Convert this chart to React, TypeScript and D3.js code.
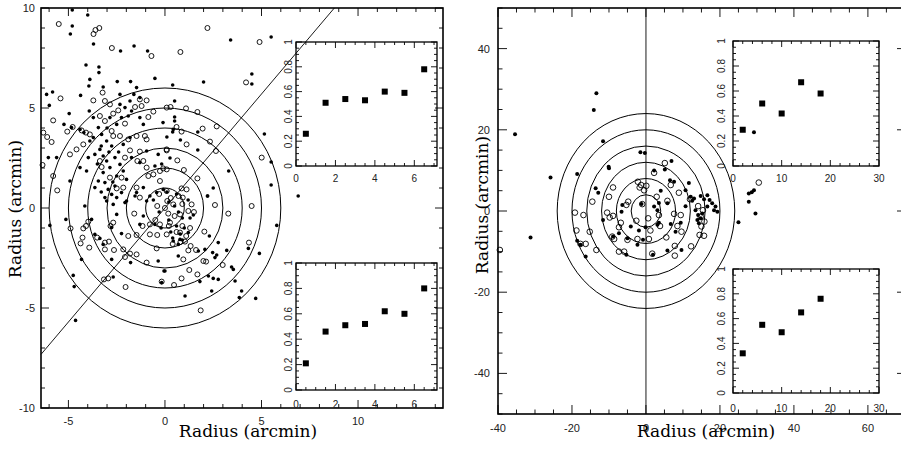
import React from 'react';
import * as d3 from 'd3';

// ---- data ----
// left field: filled and open sources, [x, y] in arcmin
const leftFilled: [number, number][] = [
  [-4.8, 9.9], [-4.0, 9.65], [-4.8, 9.1], [-4.9, 8.7], [-3.7, 8.2], [-2.3, 7.85], [-1.6, 8.1], [-0.9, 7.85],
  [3.4, 8.4], [5.5, 8.55], [6.9, 0.6],
  [-4.09, 7.15], [-3.42, 7.05], [-3.42, 6.77], [-3.89, 6.43], [-3.94, 6.1], [-4.37, 5.63], [-6.13, 5.68], [-5.82, 5.8],
  [-5.99, 5.13], [-4.96, 4.72], [-5.23, 4.18], [-4.84, 4.02], [-4.4, 3.93], [-4.2, 3.77], [-3.92, 4.85], [-3.2, 6.05],
  [-2.47, 6.32], [-2.33, 5.68], [-1.78, 6.32], [-1.47, 6.02], [-1.61, 5.68], [-1.81, 5.35], [-1.3, 5.52], [-0.52, 6.48],
  [-3.71, 4.52], [-3.45, 4.02], [-3.71, 3.52], [-3.89, 3.35], [-3.28, 3.68], [-3.02, 3.35], [-2.76, 3.1], [-3.37, 2.93],
  [-3.63, 2.68], [-3.2, 2.6], [-3.02, 2.35], [-2.59, 2.52], [-2.33, 2.18], [-2.85, 2.02], [-3.2, 1.77], [-3.45, 1.35],
  [-3.63, 1.02], [-3.11, 1.27], [-2.94, 0.93], [-2.59, 1.1], [-2.5, 1.6], [-2.16, 1.85], [-1.99, 1.43], [-2.25, 0.77],
  [-2.5, 0.52], [-2.76, 0.68], [-3.11, 0.52], [-2.16, 3.18], [-1.81, 3.52], [-2.25, 4.52], [-2.07, 5.02], [-1.73, 4.85],
  [-2.33, 5.18], [-1.3, 4.52], [-1.12, 4.18], [-2.5, 4.18], [-2.85, 4.52], [-6.04, 2.52], [-5.61, 2.52], [-4.92, 1.35],
  [-4.4, 2.02], [-4.06, 1.85], [-3.97, 2.52], [-1.47, 0.77], [-1.12, 1.02], [-0.78, 0.6], [-0.43, 0.77], [-0.35, 2.68],
  [-0.95, 2.85], [-0.52, 2.1], [-1.3, 2.27], [-1.73, 2.52], [-0.09, 0.93], [-3.02, 0.35], [-1.99, 0.35], [-2.68, 0.18],
  [-3.3, 3.1], [-2.9, 2.8], [-3.5, 2.2], [-2.7, 1.3], [-3.3, 0.8], [-2.4, 2.8], [-3.0, 4.0], [-1.9, 4.6],
  [0.4, 6.15], [2.0, 6.3], [4.5, 6.7], [4.5, 6.2], [0.5, 5.35], [0.5, 4.55], [0.5, 4.35], [-0.1, 4.27], [0.43, 3.93],
  [0.4, 3.8], [0.1, 3.55], [0.8, 3.4], [1.7, 3.8], [1.7, 2.9], [0.26, 2.5], [5.15, 3.7], [5.5, 2.3], [3.3, 1.85],
  [2.5, 1.0], [2.2, 0.6], [5.5, 1.15], [-0.17, 2.2],
  [-4.15, 0.1], [-5.13, -0.57], [-5.96, -0.87], [-4.32, -2.57], [-4.75, -3.37], [-4.7, -3.93], [-4.63, -5.62],
  [-2.68, -3.45], [-2.76, -2.57], [-1.78, -2.73], [-2.25, -1.28], [-2.5, -0.32], [-2.07, 0.27], [-1.3, -0.82],
  [-1.12, -0.4], [-0.52, -0.82], [-0.35, -2.65], [0.0, -3.15], [-0.17, -3.73], [-0.95, 0.35], [-1.55, 0.6],
  [-3.63, -1.32], [-3.37, -1.52], [-2.76, -0.98], [-3.8, -0.57], [-3.2, -1.82],
  [2.21, 0.6], [1.47, -0.35], [2.3, -1.4], [2.76, -1.73], [1.73, -2.15], [2.07, -2.07], [2.47, -2.23], [2.59, -2.48],
  [2.68, -2.35], [3.2, -2.12], [3.45, -2.95], [3.54, -3.07], [4.32, -2.02], [4.89, -2.27], [5.79, -0.87], [2.25, -3.4],
  [2.5, -3.52], [2.76, -3.57], [3.63, -3.65], [3.97, -4.15], [3.85, -4.48], [4.7, -4.52], [2.42, -4.15], [1.04, -4.4],
  [1.81, -3.68], [1.21, -1.23], [0.78, -1.57], [0.69, -1.82], [0.43, -1.65], [-0.05, -3.15], [0.69, -2.4],
  [0.2, 0.3], [0.5, 0.1], [0.7, -0.2], [0.9, -0.5], [0.6, -0.9], [0.3, -1.2], [0.8, -1.3], [1.0, -1.0], [0.4, -1.5],
  [0.9, -1.6], [-0.3, -0.2], [-0.6, 0.4], [0.1, 0.8], [0.6, 0.7], [1.2, 0.4], [-0.2, -1.0], [0.2, -0.6], [1.3, -0.5],
];

const leftOpen: [number, number][] = [
  [-5.5, 9.2], [-3.7, 8.7], [-3.6, 8.9], [-3.4, 9.0], [-2.75, 8.0], [-0.7, 7.6], [0.8, 7.8], [2.2, 9.0], [4.9, 8.3],
  [-5.41, 5.48], [-5.79, 4.38], [-6.3, 3.77], [-6.1, 3.55], [-5.87, 3.3], [-6.34, 2.15], [-5.79, 1.6], [-5.58, 0.88],
  [-5.06, 3.82], [-4.78, 4.05], [-4.32, 3.88], [-4.09, 3.77], [-3.23, 5.77], [-3.71, 5.38], [-3.11, 5.35], [-2.85, 5.18],
  [-2.68, 4.72], [-2.42, 4.88], [-3.37, 4.6], [-3.11, 4.35], [-2.07, 4.22], [-2.76, 3.85], [-2.68, 3.6], [-2.33, 3.6],
  [-1.9, 3.43], [-1.47, 3.6], [-1.04, 3.6], [-0.95, 3.43], [-1.3, 5.43], [-0.95, 5.38], [-1.55, 5.05], [-1.21, 5.1],
  [-0.86, 4.55], [-0.6, 4.82], [0.09, 5.02], [-2.07, 2.52], [-1.81, 2.88], [-1.3, 2.82], [-1.43, 2.35], [-1.12, 2.35],
  [-0.95, 2.02], [-0.86, 1.6], [-0.6, 1.68], [-0.26, 1.85], [0.09, 2.93], [0.09, 1.93], [-2.25, 1.52], [-2.16, 1.02],
  [-1.47, 1.02], [-2.85, 1.52], [-3.28, 2.05], [-3.37, 2.35], [-4.23, 3.18], [-4.58, 2.93], [-4.92, 2.68], [-3.89, 3.68],
  [-2.5, 0.98], [-1.3, 0.52], [-0.26, 1.35],
  [0.29, 5.05], [1.09, 4.98], [1.68, 4.8], [0.6, 4.05], [0.86, 3.82], [1.95, 3.97], [2.68, 4.08], [2.33, 3.32],
  [1.12, 3.18], [0.09, 2.88], [0.64, 2.38], [2.64, 2.85], [-0.09, 1.98], [0.98, 1.9], [1.68, 1.48], [4.2, 6.28],
  [5.01, 2.52], [1.12, 0.93], [0.86, 0.98], [0.92, 0.52], [0.09, 0.85],
  [-4.89, -1.02], [-4.23, -1.02], [-4.09, -0.9], [-3.97, -0.68], [-4.27, -1.48], [-4.37, -1.77], [-3.92, -1.98],
  [-3.51, -1.48], [-3.11, -1.73], [-2.9, -1.68], [-3.11, -2.07], [-2.64, -2.1], [-2.16, -2.07], [-1.9, -1.4],
  [-1.81, -2.28], [-1.47, -2.32], [-2.07, -2.45], [-2.82, -0.9], [-2.68, -0.73], [-3.16, -3.57], [-2.94, -3.52],
  [-2.04, -3.95], [-1.47, -1.35], [-0.78, -1.32], [-0.4, -1.35], [-0.43, -2.02], [-0.95, -2.73], [-1.59, -0.28],
  [-0.78, -0.82], [-0.26, -0.82], [0.09, -1.32], [0.17, -0.28], [-1.16, -0.9],
  [2.59, 0.15], [3.28, -0.28], [4.49, 0.1], [2.04, -1.18], [1.61, -2.1], [1.99, -2.65], [2.99, -2.85], [1.21, -2.12],
  [0.95, -2.57], [1.26, -3.1], [1.68, -3.32], [0.86, -3.52], [0.47, -3.85], [-0.17, -3.68], [1.85, -5.12], [4.35, -1.73],
  [2.13, -2.68], [1.33, -1.9], [1.04, -1.68], [0.78, -1.23], [0.26, -0.73], [1.38, 0.18], [1.21, -0.15], [0.78, -0.32],
  [0.12, 0.35], [0.43, 0.18],
  [0.0, 0.0], [0.3, 0.5], [0.7, 0.6], [0.9, 0.2], [-0.4, 0.1], [0.5, -0.4], [0.9, -0.9], [0.4, -1.8], [0.8, -1.7],
  [1.1, -1.4], [-0.5, -0.6], [0.2, -0.9], [1.3, -1.0], [-0.3, 0.7], [0.6, -1.2], [1.5, -0.2],
];

const rightFilled: [number, number][] = [
  [-13.4, 29.0], [-14.1, 24.9], [-35.4, 18.9], [-11.6, 17.2], [-25.8, 8.25], [-31.2, -6.5], [-18.6, 9.1], [-1.5, 14.5],
  [-0.3, 14.3], [-16.3, -11.2], [29.2, 19.4], [29.2, 5.1], [28.6, 4.6], [27.8, 4.3], [27.8, 2.3], [29.6, -0.6],
  [25.0, -2.8], [19.3, -0.2], [-10.1, 10.9], [-10.0, 10.5], [-13.6, 5.6], [-12.9, 4.5], [6.9, 12.3], [5.1, 10.2],
  [2.2, 10.0], [7.6, 7.2], [6.5, 7.6], [11.6, 6.9], [10.7, 5.1], [4.0, 5.0], [12.1, 3.5], [13.0, 3.1], [12.5, 2.5],
  [14.8, 3.7], [15.7, 2.9], [16.6, 3.9], [17.2, 2.7], [17.9, 1.9], [16.6, 1.1], [18.8, 1.1], [18.4, 0.2], [13.4, 0.2],
  [14.1, -1.0], [14.8, -1.8], [15.2, -0.6], [13.9, -2.2], [14.3, -3.0], [10.7, 1.2], [5.8, 1.9], [2.2, 1.1], [3.1, 0.2],
  [3.5, 2.0], [-1.2, 1.7], [-6.4, 1.5], [-6.6, -0.2], [-11.6, -2.2], [-4.1, -3.8], [-1.9, -4.8], [-0.1, -4.0],
  [-5.0, -6.7], [-2.3, -8.3], [-0.8, -7.1], [-8.9, -6.3], [-7.3, -5.5], [3.5, -2.9], [3.1, -3.4], [6.7, -3.2],
  [8.0, -5.1], [9.6, -9.6], [5.8, -9.7], [1.9, -10.8], [-5.3, -10.8], [-17.7, -8.3], [-18.6, -7.3], [9.4, -2.9],
];

const rightOpen: [number, number][] = [
  [-39.5, -9.6], [-19.2, -0.4], [30.5, 7.0], [5.1, 11.8], [2.2, 9.4], [-2.2, 7.2], [-1.3, 6.4], [0.1, 6.2], [-1.7, 5.8],
  [-0.5, 5.1], [-8.9, 5.8], [-10.0, 3.5], [-14.5, 2.3], [-4.8, 2.3], [-5.3, 1.5], [2.9, 3.5], [5.8, 2.5], [6.7, 6.4],
  [8.9, 4.5], [11.9, 2.9], [14.1, 1.2], [15.4, 0.2], [14.8, -1.4], [15.8, -2.6], [15.0, -3.8], [14.5, -5.9],
  [15.7, -6.1], [7.6, -0.7], [9.4, -1.0], [9.6, -5.1], [7.8, -8.6], [12.2, -8.7], [8.5, -3.7], [-16.9, -1.0],
  [-18.8, -4.8], [-15.2, -5.1], [-17.7, -8.1], [-16.3, -8.1], [-13.4, -9.6], [-10.5, -0.4], [-9.8, -1.6], [-8.9, -1.2],
  [-6.8, -2.9], [-7.3, -4.0], [-9.1, -6.3], [-8.6, -6.9], [-5.0, -7.1], [-7.3, -10.0], [-5.9, -10.0], [-2.6, -2.4],
  [0.6, -1.8], [1.2, -4.8], [-2.3, -6.9], [0.8, -6.9], [5.5, -6.5], [3.5, -1.0], [3.8, -3.7], [-1.0, 1.7], [1.7, -10.5],
  [7.8, -11.0],
];

const leftRings = [1, 2, 3, 4, 5, 6];
const rightRings = [4, 8, 12, 16, 20, 24];
const leftLineSlope = 1.14;

// inset fractions
const leftBins = [0.5, 1.5, 2.5, 3.5, 4.5, 5.5, 6.5];
const leftTopFrac = [0.26, 0.51, 0.54, 0.53, 0.6, 0.59, 0.78];
const leftBottomFrac = [0.21, 0.46, 0.51, 0.52, 0.62, 0.6, 0.8];
const rightBins = [2, 6, 10, 14, 18];
const rightTopFrac = [0.29, 0.5, 0.42, 0.67, 0.58];
const rightBottomFrac = [0.32, 0.55, 0.49, 0.65, 0.76];

const leftXLabels = [-5, 0, 5, 10];
const leftYLabels = [-10, -5, 0, 5, 10];
const rightXLabels = [-40, -20, 0, 20, 40, 60];
const rightYLabels = [-40, -20, 0, 20, 40];
const leftInsetX = [0, 2, 4, 6];
const rightInsetX = [0, 10, 20, 30];
const insetY = [0, 0.2, 0.4, 0.6, 0.8, 1];

const SANS = '"Liberation Sans", Arial, sans-serif';
const SERIF = '"DejaVu Serif", serif';

type Scale = d3.ScaleLinear<number, number>;

const near = (v: number, step: number) => Math.abs(v / step - Math.round(v / step)) < 1e-6;

function FrameTicks({ x, y, xStep, xMajor, yStep, yMajor, major, minor, sw }: {
  x: Scale; y: Scale; xStep: number; xMajor: number; yStep: number; yMajor: number; major: number; minor: number; sw: number;
}) {
  const [x0, x1] = x.domain();
  const [y0, y1] = y.domain();
  const xs = d3.range(Math.ceil(x0 / xStep) * xStep, x1 + 1e-9, xStep);
  const ys = d3.range(Math.ceil(y0 / yStep) * yStep, y1 + 1e-9, yStep);
  const [L, R] = x.range();
  const [B, T] = y.range();
  const els: React.ReactNode[] = [];
  xs.forEach((v, i) => {
    const len = near(v, xMajor) ? major : minor;
    const px = x(v);
    els.push(<line key={'xb' + i} x1={px} x2={px} y1={B} y2={B - len} />);
    els.push(<line key={'xt' + i} x1={px} x2={px} y1={T} y2={T + len} />);
  });
  ys.forEach((v, i) => {
    const len = near(v, yMajor) ? major : minor;
    const py = y(v);
    els.push(<line key={'yl' + i} x1={L} x2={L + len} y1={py} y2={py} />);
    els.push(<line key={'yr' + i} x1={R} x2={R - len} y1={py} y2={py} />);
  });
  return (
    <g stroke="#000" strokeWidth={0.9}>
      {els}
      <rect x={L} y={T} width={R - L} height={B - T} fill="none" strokeWidth={sw} />
    </g>
  );
}

function Inset({ xDom, xRange, yRange, bins, frac, xLabels, xStep, xMajor, yLabelX, xLabelY }: {
  xDom: [number, number]; xRange: [number, number]; yRange: [number, number]; bins: number[]; frac: number[];
  xLabels: number[]; xStep: number; xMajor: number; yLabelX: number; xLabelY: number;
}) {
  const x = d3.scaleLinear().domain(xDom).range(xRange);
  const y = d3.scaleLinear().domain([0, 1]).range(yRange);
  return (
    <g>
      <FrameTicks x={x} y={y} xStep={xStep} xMajor={xMajor} yStep={0.05} yMajor={0.2} major={6} minor={3} sw={1.3} />
      {bins.map((b, i) => (
        <rect key={i} x={x(b) - 3} y={y(frac[i]) - 3} width={6} height={6} fill="#000" />
      ))}
      <g fontFamily={SANS} fontSize={10} fill="#222">
        {xLabels.map((v) => (
          <text key={v} x={x(v)} y={xLabelY} textAnchor="middle">{v}</text>
        ))}
        {insetY.map((v) => (
          <text key={v} transform={`translate(${yLabelX},${y(v)}) rotate(-90)`} textAnchor="middle">{v}</text>
        ))}
      </g>
    </g>
  );
}

export default function App() {
  const lx = d3.scaleLinear().domain([-6.42, 14.4]).range([41, 443]);
  const ly = d3.scaleLinear().domain([-10, 10]).range([408, 8]);
  const rx = d3.scaleLinear().domain([-40, 70.3]).range([498, 906]);
  const ry = d3.scaleLinear().domain([-50, 50]).range([414, 8]);

  const lineX0 = lx.domain()[0];
  const lineX1 = ly.domain()[1] / leftLineSlope;

  return (
    <svg width={901} height={449} viewBox="0 0 901 449"
      style={{ position: 'absolute', left: 0, top: 0, background: '#fff', overflow: 'hidden' }}>
      <rect width={901} height={449} fill="#fff" />

      {/* ---------- left panel ---------- */}
      <g fill="none" stroke="#000" strokeWidth={1}>
        {leftRings.map((r) => (
          <ellipse key={r} cx={lx(0)} cy={ly(0)} rx={lx(r) - lx(0)} ry={ly(0) - ly(r)} />
        ))}
        <line x1={lx(lineX0)} y1={ly(lineX0 * leftLineSlope)} x2={lx(lineX1)} y2={ly(lineX1 * leftLineSlope)} strokeWidth={0.9} />
      </g>
      <g fill="#000">
        {leftFilled.map(([a, b], i) => <circle key={i} cx={lx(a)} cy={ly(b)} r={1.8} />)}
      </g>
      <g fill="none" stroke="#000" strokeWidth={0.9}>
        {leftOpen.map(([a, b], i) => <circle key={i} cx={lx(a)} cy={ly(b)} r={2.5} />)}
      </g>
      <FrameTicks x={lx} y={ly} xStep={1} xMajor={5} yStep={1} yMajor={5} major={8} minor={4} sw={1.6} />
      <g fontFamily={SANS} fontSize={11} fill="#222">
        {leftXLabels.map((v) => <text key={v} x={lx(v)} y={425} textAnchor="middle">{v}</text>)}
        {leftYLabels.map((v) => <text key={v} x={35} y={ly(v) + 4} textAnchor="end">{v}</text>)}
      </g>
      <Inset xDom={[0, 7.15]} xRange={[296, 437]} yRange={[166, 42]} bins={leftBins} frac={leftTopFrac}
        xLabels={leftInsetX} xStep={0.5} xMajor={2} yLabelX={292} xLabelY={182} />
      <Inset xDom={[0, 7.15]} xRange={[296, 437]} yRange={[390, 263]} bins={leftBins} frac={leftBottomFrac}
        xLabels={leftInsetX} xStep={0.5} xMajor={2} yLabelX={292} xLabelY={408} />
      <g fontFamily={SERIF} fontSize={17} fill="#000">
        <text x={248} y={437} textAnchor="middle">Radius (arcmin)</text>
        <text transform="translate(21,209) rotate(-90)" textAnchor="middle">Radius (arcmin)</text>
      </g>

      {/* ---------- right panel ---------- */}
      <g fill="none" stroke="#000" strokeWidth={1}>
        {rightRings.map((r) => (
          <ellipse key={r} cx={rx(0)} cy={ry(0)} rx={rx(r) - rx(0)} ry={ry(0) - ry(r)} />
        ))}
        <line x1={rx(0)} x2={rx(0)} y1={ry(50)} y2={ry(-50)} strokeWidth={0.9} />
      </g>
      <g fill="#000">
        {rightFilled.map(([a, b], i) => <circle key={i} cx={rx(a)} cy={ry(b)} r={2} />)}
      </g>
      <g fill="none" stroke="#000" strokeWidth={0.9}>
        {rightOpen.map(([a, b], i) => <circle key={i} cx={rx(a)} cy={ry(b)} r={2.8} />)}
      </g>
      <FrameTicks x={rx} y={ry} xStep={5} xMajor={20} yStep={5} yMajor={20} major={9} minor={4.5} sw={1.6} />
      <g fontFamily={SANS} fontSize={11} fill="#222">
        {rightXLabels.map((v) => <text key={v} x={rx(v)} y={432} textAnchor="middle">{v}</text>)}
        {rightYLabels.map((v) => <text key={v} x={490} y={ry(v) + 4} textAnchor="end">{v}</text>)}
      </g>
      <Inset xDom={[0, 30]} xRange={[733, 879]} yRange={[166, 41]} bins={rightBins} frac={rightTopFrac}
        xLabels={rightInsetX} xStep={2} xMajor={10} yLabelX={725} xLabelY={182} />
      <Inset xDom={[0, 30]} xRange={[733, 879]} yRange={[393, 269]} bins={rightBins} frac={rightBottomFrac}
        xLabels={rightInsetX} xStep={2} xMajor={10} yLabelX={725} xLabelY={412} />
      <g fontFamily={SERIF} fontSize={17} fill="#000">
        <text x={706} y={437} textAnchor="middle">Radius (arcmin)</text>
        <text transform="translate(488,205) rotate(-90)" textAnchor="middle">Radius (arcmin)</text>
      </g>
    </svg>
  );
}
